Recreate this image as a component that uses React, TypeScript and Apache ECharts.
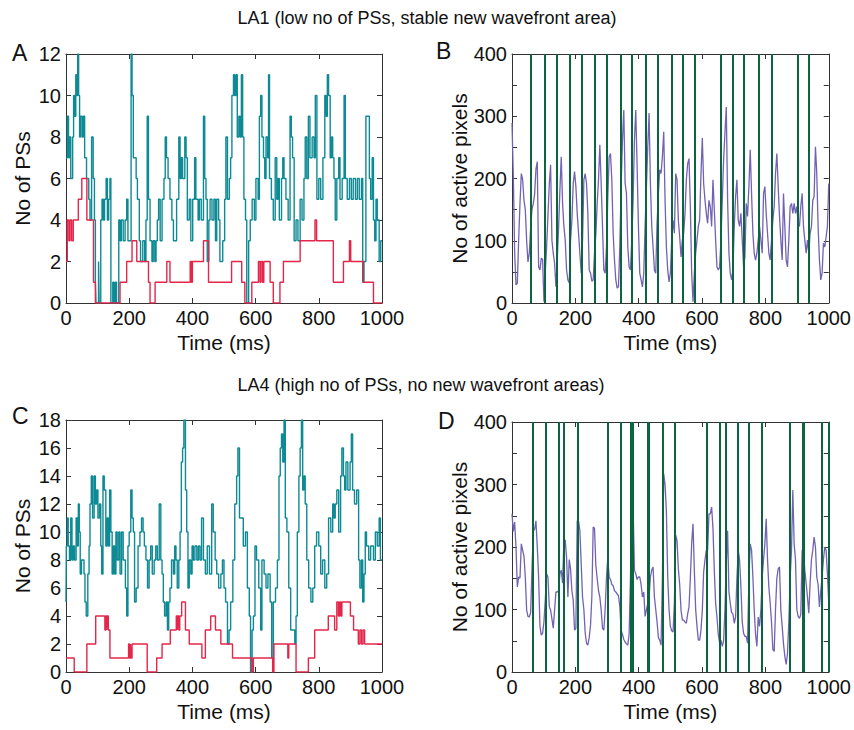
import React, { useEffect, useRef } from "react";
import * as echarts from "echarts";

// ---------- DATA ----------
// Panel A (LA1): number of phase singularities, step series [time ms, count]
const aTeal: [number, number][] = [[0,7],[4,9],[8,7],[11,8],[15,6],[21,8],[24,10],[27,9],[31,11],[34,10],[37,12],[40,10],[43,8],[46,9],[51,8],[55,9],[59,7],[65,6],[72,5],[76,4],[81,8],[86,6],[90,4],[93,1],[95,0],[103,2],[105,0],[110,4],[114,5],[118,4],[122,5],[127,6],[131,4],[135,5],[139,6],[142,0],[148,1],[152,0],[156,1],[160,0],[167,4],[171,3],[175,4],[181,3],[187,4],[192,5],[196,3],[206,12],[209,10],[213,7],[222,6],[226,5],[232,3],[236,2],[243,3],[249,2],[253,4],[257,9],[261,5],[266,3],[272,2],[276,3],[281,2],[285,3],[289,4],[293,5],[298,3],[304,5],[310,6],[314,8],[318,7],[323,6],[329,5],[335,4],[340,3],[350,5],[357,8],[361,6],[365,7],[369,6],[376,8],[380,7],[384,4],[390,5],[395,3],[401,5],[407,7],[411,5],[418,4],[422,5],[428,4],[435,9],[439,6],[443,5],[447,2],[452,4],[456,5],[462,4],[468,5],[473,3],[477,5],[483,4],[487,2],[496,3],[502,5],[506,8],[511,5],[517,6],[521,7],[525,10],[530,11],[534,10],[538,11],[542,8],[547,9],[551,8],[555,11],[559,8],[563,5],[568,4],[572,0],[578,3],[583,4],[589,5],[596,4],[601,6],[608,5],[612,9],[616,10],[620,8],[625,7],[629,6],[633,8],[638,7],[641,11],[644,6],[650,5],[656,4],[662,7],[667,5],[671,6],[675,4],[682,6],[686,7],[690,6],[696,5],[703,4],[709,9],[713,8],[717,7],[722,3],[728,4],[734,3],[741,5],[747,4],[753,6],[757,8],[762,6],[767,9],[772,7],[779,8],[785,7],[789,10],[794,5],[800,6],[806,5],[813,7],[819,10],[823,9],[827,11],[831,10],[836,7],[840,8],[844,7],[848,6],[852,4],[857,6],[863,7],[867,5],[874,6],[880,10],[884,6],[890,5],[897,6],[903,5],[909,6],[916,5],[922,6],[928,5],[935,6],[939,1],[943,2],[949,9],[960,6],[964,5],[969,7],[973,4],[977,3],[981,5],[985,4],[991,2],[996,3]];
const aRed: [number, number][] = [[0,2],[4,4],[9,3],[13,4],[18,3],[23,4],[39,5],[50,6],[66,4],[87,1],[93,0],[171,1],[192,2],[209,3],[224,2],[261,1],[266,0],[282,1],[319,2],[329,1],[393,2],[397,1],[400,2],[435,3],[451,1],[524,2],[556,1],[566,0],[588,1],[609,2],[614,1],[617,2],[622,1],[626,2],[646,1],[656,0],[677,1],[688,2],[741,3],[788,4],[793,3],[846,1],[878,2],[897,3],[901,2],[941,1],[973,0]];

// Panel B (LA1): number of active pixels, sampled evenly over 0..1000 ms
const bPixels: number[] = [
  289,203,80,29,32,101,160,208,198,165,150,100,66,80,120,150,160,175,215,227,
  58,53,72,70,2,50,90,140,190,222,101,80,64,26,69,120,182,235,160,123,
  101,53,37,32,101,133,192,211,187,144,112,80,48,101,198,208,192,144,53,48,
  35,37,80,110,160,198,254,192,123,53,48,90,171,235,240,198,112,69,37,24,
  26,90,187,262,310,192,176,90,58,53,101,165,262,310,219,123,48,37,26,48,
  123,187,251,305,192,123,90,53,48,128,176,214,208,235,275,165,90,53,34,48,
  101,133,112,208,198,133,106,74,101,112,144,198,224,232,155,48,2,48,80,101,
  123,133,208,265,192,165,144,128,165,155,123,198,150,101,58,53,58,101,165,230,
  273,315,165,80,48,37,53,123,171,198,133,123,144,101,58,74,160,139,187,246,
  176,112,80,69,80,101,123,101,80,176,187,144,112,80,69,101,133,155,208,240,
  187,139,101,69,176,123,69,58,101,155,160,144,160,144,155,128,123,155,176,123,
  101,80,101,80,112,123,165,171,251,208,123,69,37,48,96,90,106,123,192
];
// Panel B: new wavefront times (ms)
const bFronts: number[] = [60,102,141,181,220,260,299,344,379,422,461,505,539,578,658,698,733,780,819,903,938];

// Panel C (LA4): number of phase singularities
const cTeal: [number, number][] = [[0,5],[1,9],[4,11],[7,9],[11,8],[15,11],[19,8],[23,9],[27,8],[32,11],[36,9],[39,12],[42,10],[45,7],[49,8],[57,7],[60,5],[64,4],[69,7],[73,9],[76,12],[80,14],[84,11],[89,14],[93,12],[97,13],[101,11],[106,12],[110,9],[113,7],[117,14],[121,13],[126,9],[130,11],[134,9],[138,13],[142,10],[146,7],[150,9],[154,7],[158,10],[162,8],[167,10],[171,7],[176,10],[181,8],[188,6],[192,4],[196,9],[200,10],[205,13],[209,11],[213,10],[217,5],[222,6],[228,9],[234,10],[239,11],[244,10],[248,9],[253,8],[258,6],[263,8],[268,9],[273,7],[279,8],[284,9],[289,8],[295,12],[300,8],[304,7],[308,5],[312,4],[317,5],[321,3],[325,5],[329,6],[334,8],[340,7],[344,9],[348,8],[352,6],[357,8],[361,10],[365,15],[369,16],[373,18],[378,13],[382,10],[386,6],[390,8],[395,7],[399,9],[403,8],[408,9],[414,8],[419,9],[424,8],[429,11],[435,8],[441,7],[447,9],[454,7],[461,12],[466,10],[472,8],[477,7],[483,6],[490,7],[495,8],[500,6],[505,5],[511,2],[516,3],[521,5],[528,8],[534,12],[540,14],[544,16],[549,11],[561,9],[568,10],[574,6],[580,4],[584,0],[589,3],[593,4],[598,9],[603,8],[610,6],[616,3],[620,8],[627,7],[633,6],[639,7],[646,5],[651,1],[656,5],[663,6],[669,8],[674,14],[678,16],[682,17],[686,15],[690,18],[694,11],[699,10],[705,6],[711,3],[724,2],[728,4],[732,10],[737,14],[741,16],[745,18],[749,13],[753,14],[757,12],[762,8],[768,6],[775,5],[781,6],[787,9],[793,10],[800,9],[806,7],[812,8],[819,6],[825,7],[831,11],[838,10],[844,12],[848,11],[852,12],[857,13],[863,10],[869,14],[873,16],[878,14],[882,13],[886,15],[892,13],[899,15],[903,17],[907,13],[913,12],[920,13],[926,8],[930,6],[935,8],[939,5],[943,7],[947,10],[951,9],[958,8],[964,9],[973,8],[979,10],[985,9],[991,11],[995,8]];
const cRed: [number, number][] = [[0,1],[26,0],[66,2],[94,4],[123,3],[126,4],[129,3],[131,4],[134,3],[139,1],[198,2],[201,1],[204,2],[206,1],[209,2],[257,0],[287,1],[304,2],[330,3],[349,4],[352,3],[354,4],[357,3],[360,4],[366,5],[378,3],[390,2],[430,1],[441,3],[458,4],[473,3],[490,2],[527,1],[588,0],[593,1],[654,0],[658,2],[702,1],[705,2],[728,0],[767,1],[787,3],[830,4],[850,3],[857,5],[862,4],[866,5],[870,4],[873,5],[900,4],[910,3],[925,2],[930,3],[935,2],[940,3],[945,2]];

// Panel D (LA4): number of active pixels
const dPixels: number[] = [
  253,225,240,200,136,152,150,205,195,185,152,99,89,88,95,163,226,228,242,200,
  152,73,59,62,80,115,157,152,105,99,85,70,99,128,128,130,157,163,142,211,
  211,183,120,180,165,130,115,67,70,242,242,226,173,120,100,62,46,43,55,75,
  120,232,230,170,150,130,120,99,70,67,100,152,183,152,148,140,138,130,128,125,
  122,105,67,60,52,48,45,43,60,150,266,266,163,157,148,152,152,140,120,128,
  89,99,110,120,152,163,168,120,100,80,55,51,43,150,317,300,258,152,100,73,
  66,64,110,219,210,165,140,99,83,83,80,78,93,104,150,205,237,163,100,73,
  51,51,67,99,160,179,195,195,253,253,264,230,163,110,88,60,46,51,41,50,
  100,173,226,128,110,95,93,78,88,150,195,179,136,80,62,57,57,46,150,205,
  195,152,99,60,41,88,73,99,152,180,205,245,179,136,110,80,36,33,100,150,
  165,168,99,73,45,25,12,30,80,150,195,291,205,180,100,89,86,92,195,195,
  163,142,120,94,142,180,195,216,200,152,140,104,130,152,180,200,195,157,110
];
const dFronts: number[] = [64,106,149,162,206,301,343,374,380,428,432,477,514,614,656,674,712,748,789,877,917,921,977,1000];

const titleTop = "LA1 (low no of PSs, stable new wavefront area)";
const titleBottom = "LA4 (high no of PSs, no new wavefront areas)";

// ---------- STYLE ----------
const FONT = "'Liberation Sans', Arial, Helvetica, sans-serif";
const AXIS = "#333333";
const TEAL = "#0e8a95";
const RED = "#e3264a";
const PURPLE = "#7262b3";
const GREEN = "#0b6540";
const FS = 20;
const NAME_FS = 21;

function stepData(pts: [number, number][]) {
  const last = pts[pts.length - 1];
  return [...pts, [1000, last[1]]];
}
function sampled(vals: number[]) {
  const n = vals.length;
  return vals.map((v, i) => [(i * 1000) / (n - 1), v]);
}

function xAxes(gi: number) {
  const base = {
    type: "value", gridIndex: gi, min: 0, max: 1000, interval: 200,
    axisLine: { show: true, onZero: false, lineStyle: { color: AXIS, width: 1 } },
    axisTick: { show: true, inside: true, length: 5, lineStyle: { color: AXIS } },
    splitLine: { show: false },
  };
  return [
    {
      ...base, position: "bottom",
      axisLabel: { color: "#111", fontSize: FS, fontFamily: FONT, margin: 5, formatter: (v: number) => String(v) },
      name: "Time (ms)", nameLocation: "middle", nameGap: 29,
      nameTextStyle: { color: "#111", fontSize: NAME_FS, fontFamily: FONT },
    },
    { ...base, position: "top", axisLabel: { show: false } },
  ];
}
function yAxes(gi: number, max: number, interval: number, labelStep: number, name: string, gap: number) {
  const base = {
    type: "value", gridIndex: gi, min: 0, max, interval,
    axisLine: { show: true, onZero: false, lineStyle: { color: AXIS, width: 1 } },
    axisTick: { show: true, inside: true, length: 5, lineStyle: { color: AXIS } },
    splitLine: { show: false },
  };
  return [
    {
      ...base, position: "left",
      axisLabel: {
        color: "#111", fontSize: FS, fontFamily: FONT, margin: 5,
        formatter: (v: number) => (v % labelStep === 0 ? String(v) : ""),
      },
      name, nameLocation: "middle", nameGap: gap,
      nameTextStyle: { color: "#111", fontSize: NAME_FS, fontFamily: FONT },
    },
    { ...base, position: "right", axisLabel: { show: false } },
  ];
}

function stepSeries(pts: [number, number][], ax: number, color: string) {
  return {
    type: "line", xAxisIndex: ax, yAxisIndex: ax, step: "end",
    data: stepData(pts), showSymbol: false, symbol: "none",
    lineStyle: { color, width: 1.4 }, silent: true,
  };
}
function pixelSeries(vals: number[], fronts: number[], ax: number) {
  return {
    type: "line", xAxisIndex: ax, yAxisIndex: ax,
    data: sampled(vals), showSymbol: false, symbol: "none",
    lineStyle: { color: PURPLE, width: 1.3 }, silent: true,
    markLine: {
      silent: true, symbol: ["none", "none"], label: { show: false },
      lineStyle: { color: GREEN, width: 2, type: "solid" },
      emphasis: { disabled: true },
      data: fronts.map((x) => ({ xAxis: x })),
    },
  };
}

function txt(x: number, y: number, text: string, size: number, align = "left") {
  return {
    type: "text", x, y,
    style: { text, fontSize: size, fontFamily: FONT, fill: "#111", align, verticalAlign: "middle" },
  };
}

export default function App() {
  const ref = useRef<HTMLDivElement>(null);
  useEffect(() => {
    if (!ref.current) return;
    const chart = echarts.init(ref.current, undefined, { renderer: "svg" });
    chart.setOption({
      animation: false,
      backgroundColor: "#ffffff",
      grid: [
        { left: 66, top: 54, width: 316, height: 249 },
        { left: 512, top: 54, width: 317, height: 249 },
        { left: 66, top: 420, width: 316, height: 252 },
        { left: 512, top: 422, width: 317, height: 250 },
      ],
      xAxis: [...xAxes(0), ...xAxes(1), ...xAxes(2), ...xAxes(3)],
      yAxis: [
        ...yAxes(0, 12, 2, 2, "No of PSs", 33),
        ...yAxes(1, 400, 50, 100, "No of active pixels", 41),
        ...yAxes(2, 18, 2, 2, "No of PSs", 33),
        ...yAxes(3, 400, 50, 100, "No of active pixels", 41),
      ],
      series: [
        stepSeries(aTeal, 0, TEAL),
        stepSeries(aRed, 0, RED),
        pixelSeries(bPixels, bFronts, 2),
        stepSeries(cTeal, 4, TEAL),
        stepSeries(cRed, 4, RED),
        pixelSeries(dPixels, dFronts, 6),
      ],
      graphic: [
        txt(427, 18, titleTop, 18, "center"),
        txt(421, 385, titleBottom, 18, "center"),
        txt(12, 53, "A", 23),
        txt(436, 51, "B", 23),
        txt(12, 416, "C", 23),
        txt(438, 421, "D", 23),
      ],
    });
    return () => chart.dispose();
  }, []);
  return (
    <div
      ref={ref}
      style={{ position: "fixed", left: 0, top: 0, width: 854, height: 730, background: "#fff" }}
    />
  );
}
